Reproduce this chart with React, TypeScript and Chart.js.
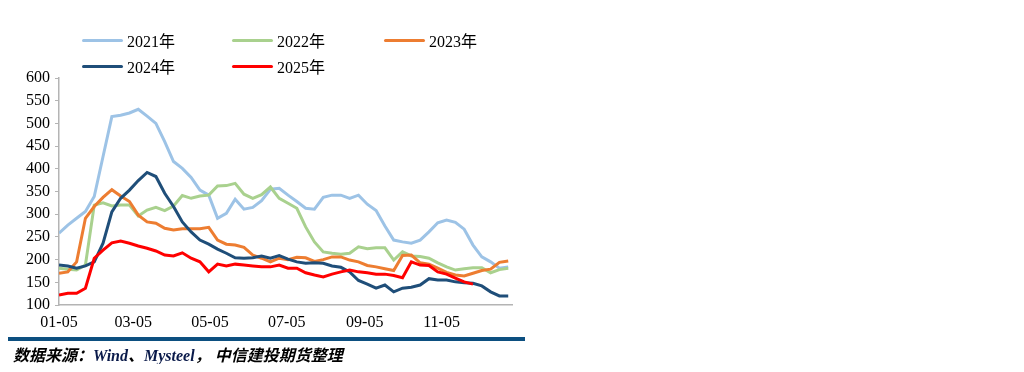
import React, { useEffect, useRef } from "react";
import { Chart, registerables } from "chart.js";

Chart.register(...registerables);

// week offsets (days from 01-05), one point per week
const weekDays: number[] = Array.from({ length: 52 }, (_, i) => i * 7);

const tickDays = [0, 59, 120, 181, 243, 304];
const tickLabels = ["01-05", "03-05", "05-05", "07-05", "09-05", "11-05"];

const seriesNames = ["2021年", "2022年", "2023年", "2024年", "2025年"];
const seriesColors = ["#9DC3E6", "#A9D18E", "#ED7D31", "#1F4E79", "#FF0000"];

const s2021 = [258, 276, 291, 306, 339, 427, 515, 518, 523, 531, 516, 500, 460, 416, 401, 381, 353, 342, 291, 302, 333, 311, 315, 330, 355, 357, 342, 328, 313, 311, 337, 342, 342, 335, 342, 322, 308, 274, 243, 239, 236, 243, 261, 281, 287, 282, 267, 232, 206, 195, 181, 184];
const s2022 = [181, 179, 177, 188, 320, 325, 318, 320, 320, 296, 309, 315, 308, 318, 341, 335, 340, 342, 362, 363, 368, 344, 335, 343, 360, 335, 324, 313, 272, 239, 217, 214, 212, 214, 228, 224, 226, 226, 199, 217, 208, 207, 203, 193, 184, 177, 180, 182, 182, 171, 178, 181];
const s2023 = [170, 173, 195, 291, 317, 337, 354, 340, 328, 298, 283, 280, 269, 265, 268, 268, 268, 271, 243, 234, 232, 227, 210, 203, 195, 203, 200, 205, 204, 196, 200, 206, 206, 199, 195, 187, 184, 180, 176, 209, 210, 193, 190, 181, 172, 166, 164, 170, 176, 179, 194, 197];
const s2024 = [188, 186, 181, 186, 195, 236, 305, 335, 353, 374, 392, 383, 346, 317, 283, 261, 243, 234, 223, 214, 204, 203, 204, 208, 203, 209, 201, 195, 192, 193, 192, 186, 183, 173, 154, 146, 137, 144, 129, 137, 139, 144, 158, 155, 155, 151, 149, 148, 142, 129, 120, 120];
const s2025 = [122, 126, 126, 137, 203, 221, 237, 241, 236, 230, 225, 219, 210, 208, 215, 203, 195, 173, 190, 186, 190, 188, 186, 184, 184, 188, 181, 181, 171, 166, 162, 168, 173, 177, 173, 171, 168, 168, 165, 160, 195, 188, 187, 173, 168, 159, 151, 146];

const seriesValues = [s2021, s2022, s2023, s2024, s2025];

const FONT = "'Liberation Serif', 'Noto Sans CJK SC', serif";

export default function App() {
  const ref = useRef<HTMLCanvasElement | null>(null);

  useEffect(() => {
    if (!ref.current) return;
    const chart = new Chart(ref.current, {
      type: "line",
      data: {
        datasets: seriesValues.map((vals, k) => ({
          label: seriesNames[k],
          data: vals.map((v, i) => ({ x: weekDays[i], y: v })),
          borderColor: seriesColors[k],
          backgroundColor: seriesColors[k],
          borderWidth: 3,
          pointRadius: 0,
          tension: 0,
          fill: false,
          order: seriesValues.length - k,
        })),
      },
      options: {
        animation: false,
        responsive: false,
        maintainAspectRatio: false,
        layout: { padding: { top: 70, right: 12, left: 0, bottom: 0 } },
        plugins: { legend: { display: false }, tooltip: { enabled: false } },
        scales: {
          x: {
            type: "linear",
            min: 0,
            max: 360,
            grid: { display: false, drawTicks: false },
            border: { display: true, color: "#B4B4B4", width: 1.5 },
            afterBuildTicks: (scale: any) => {
              scale.ticks = tickDays.map((v) => ({ value: v }));
            },
            afterFit: (scale: any) => {
              scale.height = 33;
            },
            ticks: {
              autoSkip: false,
              maxRotation: 0,
              padding: 8,
              color: "#000",
              font: { family: FONT, size: 16 },
              callback: (v: any) => {
                const idx = tickDays.indexOf(Number(v));
                return idx >= 0 ? tickLabels[idx] : "";
              },
            },
          },
          y: {
            min: 100,
            max: 600,
            grid: {
              display: true,
              drawOnChartArea: false,
              drawTicks: true,
              tickLength: 4,
              color: "#B4B4B4",
            },
            border: { display: true, color: "#B4B4B4", width: 1.5 },
            afterFit: (scale: any) => {
              scale.width = 51;
            },
            ticks: {
              stepSize: 50,
              padding: 5,
              color: "#000",
              font: { family: FONT, size: 16 },
            },
          },
        },
      },
    });
    return () => chart.destroy();
  }, []);

  const legendPos = [
    { left: 74, top: 32 },
    { left: 224, top: 32 },
    { left: 376, top: 32 },
    { left: 74, top: 58 },
    { left: 224, top: 58 },
  ];

  return (
    <div style={{ position: "relative", width: 1008, height: 356 }}>
      <canvas
        ref={ref}
        width={516}
        height={330}
        style={{ position: "absolute", left: 0, top: 0, width: 516, height: 330 }}
      />
      {seriesNames.map((name, k) => (
        <div
          key={name}
          style={{
            position: "absolute",
            left: legendPos[k].left,
            top: legendPos[k].top - 10,
            height: 20,
            display: "flex",
            alignItems: "center",
            fontFamily: FONT,
            fontSize: 16,
            color: "#000",
            whiteSpace: "nowrap",
          }}
        >
          <span
            style={{
              display: "inline-block",
              width: 41,
              height: 3,
              borderRadius: 2,
              background: seriesColors[k],
              marginRight: 4,
            }}
          />
          <span>{name}</span>
        </div>
      ))}
      <div
        style={{
          position: "absolute",
          left: -1,
          top: 329,
          width: 518,
          height: 4,
          background: "#0C4F80",
        }}
      />
      <div
        style={{
          position: "absolute",
          left: 5,
          top: 338,
          height: 20,
          lineHeight: "20px",
          fontFamily: FONT,
          fontSize: 16,
          fontStyle: "italic",
          fontWeight: "bold",
          color: "#000",
          whiteSpace: "pre",
        }}
      >
        {"数据来源："}
        <span style={{ color: "#0A1A4A" }}>Wind</span>
        {"、"}
        <span style={{ color: "#0A1A4A" }}>Mysteel</span>
        {"， 中信建投期货整理"}
      </div>
    </div>
  );
}
